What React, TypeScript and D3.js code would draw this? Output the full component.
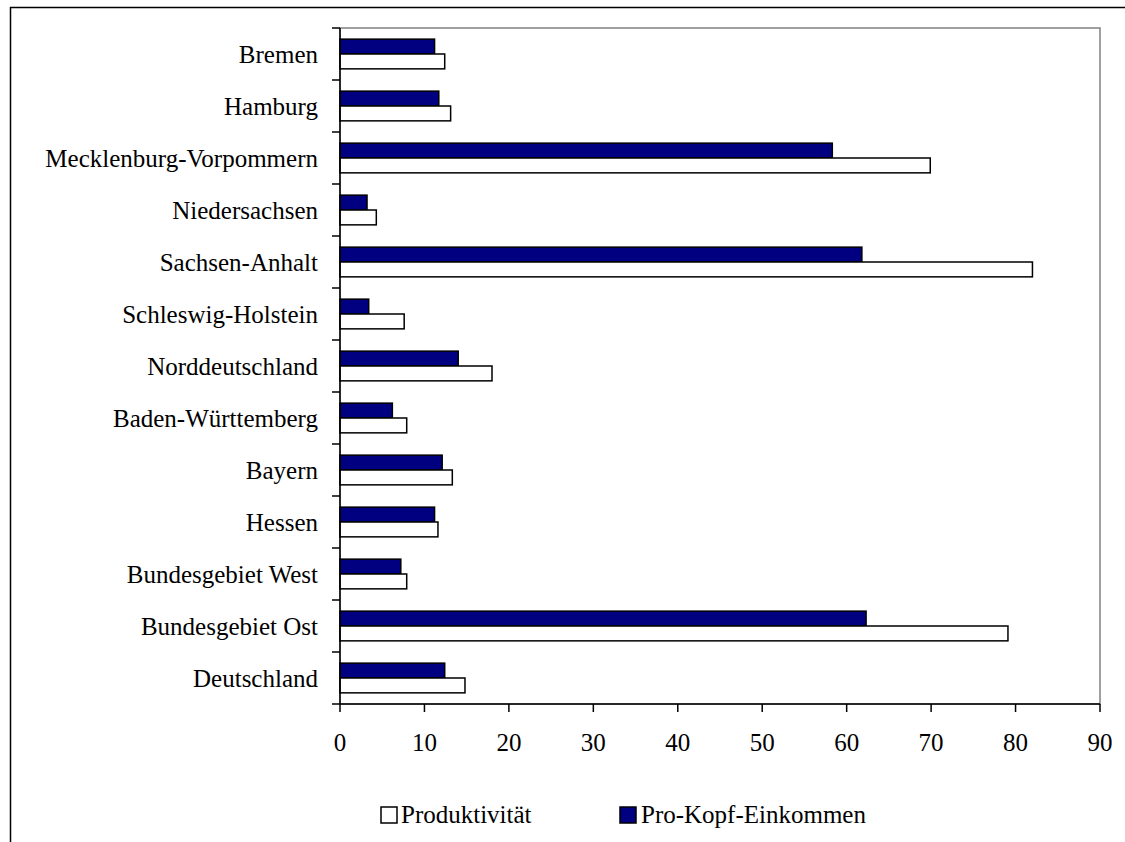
import * as React from 'react';
import * as d3 from 'd3';

const categories = [
	'Bremen', 'Hamburg', 'Mecklenburg-Vorpommern', 'Niedersachsen', 'Sachsen-Anhalt',
	'Schleswig-Holstein', 'Norddeutschland', 'Baden-Württemberg', 'Bayern', 'Hessen',
	'Bundesgebiet West', 'Bundesgebiet Ost', 'Deutschland'
];
const proKopf = [11.2, 11.7, 58.3, 3.2, 61.8, 3.4, 14.0, 6.2, 12.1, 11.2, 7.2, 62.3, 12.4];
const produktivitaet = [12.4, 13.1, 69.9, 4.3, 82.0, 7.6, 18.0, 7.9, 13.3, 11.6, 7.9, 79.1, 14.8];
const xTicks = [0, 10, 20, 30, 40, 50, 60, 70, 80, 90];
const seriesNames = ['Pro-Kopf-Einkommen', 'Produktivität'];

const W = 1125, H = 842;
const font = '"Liberation Serif", "Times New Roman", serif';

const App = () => {
	const x = d3.scaleLinear().domain([0, 90]).range([340, 1100]);
	const y = d3.scaleBand().domain(categories).range([28, 704]).padding(0);
	const sub = d3.scaleBand().domain(seriesNames).range([0, y.bandwidth()])
		.paddingInner(0).paddingOuter(0.75);
	const fills = {'Pro-Kopf-Einkommen': '#000080', 'Produktivität': '#ffffff'};
	const values = {'Pro-Kopf-Einkommen': proKopf, 'Produktivität': produktivitaet};

	const catBounds = categories.map(c => y(c)).concat([704]);

	return (
		<svg width={W} height={H} style={{position: 'absolute', left: 0, top: 0, background: '#fff'}}
			fontFamily={font}>
			{/* outer frame */}
			<path d={`M10.5,${H} L10.5,7.5 L${W},7.5`} fill="none" stroke="#000" strokeWidth={1.5}/>
			{/* plot area */}
			<rect x={340} y={28} width={760} height={676} fill="none" stroke="#808080" strokeWidth={1.5}/>

			{categories.map((c, i) => (
				<g key={c}>
					{seriesNames.map(s => (
						<rect key={s}
							x={x(0)} y={y(c) + sub(s)}
							width={x(values[s][i]) - x(0)} height={sub.bandwidth()}
							fill={fills[s]} stroke="#000" strokeWidth={1.5}/>
					))}
					<text x={318} y={y(c) + y.bandwidth() / 2} dy="0.34em" textAnchor="end"
						fontSize={25}>{c}</text>
				</g>
			))}

			{/* axes */}
			<line x1={340} x2={340} y1={28} y2={704} stroke="#000" strokeWidth={1.5}/>
			<line x1={340} x2={1100} y1={704} y2={704} stroke="#000" strokeWidth={1.5}/>
			{catBounds.map((b, i) => (
				<line key={i} x1={332} x2={340} y1={b} y2={b} stroke="#000" strokeWidth={1.5}/>
			))}
			{xTicks.map(t => (
				<g key={t}>
					<line x1={x(t)} x2={x(t)} y1={704} y2={712} stroke="#000" strokeWidth={1.5}/>
					<text x={x(t)} y={751} textAnchor="middle" fontSize={25}>{t}</text>
				</g>
			))}

			{/* legend */}
			<rect x={381} y={807} width={16} height={16} fill="#fff" stroke="#000" strokeWidth={1.5}/>
			<text x={401} y={823} fontSize={25}>Produktivität</text>
			<rect x={620} y={807} width={16} height={16} fill="#000080" stroke="#000" strokeWidth={1.5}/>
			<text x={641} y={823} fontSize={25}>Pro-Kopf-Einkommen</text>
		</svg>
	);
};

export default App;
